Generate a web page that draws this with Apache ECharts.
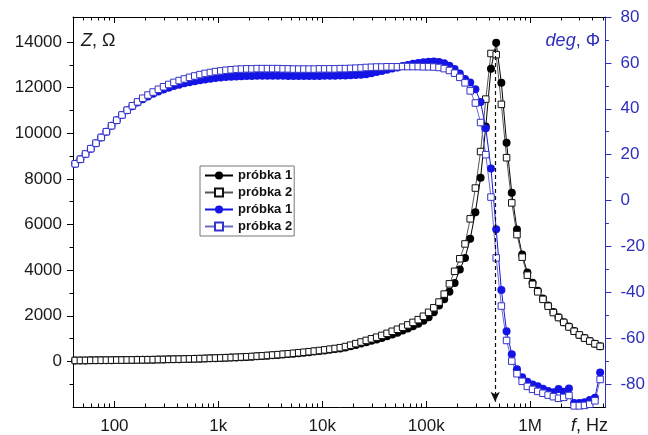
<!DOCTYPE html>
<html>
<head>
<meta charset="utf-8">
<script src="https://cdn.jsdelivr.net/npm/echarts@6.0.0/dist/echarts.min.js"></script>
<style>
  html, body { margin: 0; padding: 0; background: #fff; }
  #chart { width: 648px; height: 435px; }
</style>
</head>
<body>
<div id="chart"></div>
<script>
// measurement frequencies, Hz
var freq = [
  42, 47.12, 52.87, 59.33, 66.57, 74.69, 83.8, 94.03, 105.5, 118.4,
  132.8, 149, 167.2, 187.6, 210.5, 236.2, 265, 297.3, 333.6, 374.3,
  420, 471.2, 528.7, 593.3, 665.7, 746.9, 838, 940.3, 1055, 1184,
  1328, 1490, 1672, 1876, 2105, 2362, 2650, 2973, 3336, 3743,
  4200, 4712, 5287, 5933, 6657, 7469, 8380, 9403, 10550, 11840,
  13280, 14900, 16720, 18760, 21050, 23620, 26500, 29730, 33360, 37430,
  42000, 47120, 52870, 59330, 66570, 74690, 83800, 94030, 105500, 118400,
  132800, 149000, 167200, 187600, 210500, 236200, 265000, 297300, 333600, 374300,
  420000, 471200, 528700, 593300, 665700, 746900, 838000, 940300, 1055000, 1184000,
  1328000, 1490000, 1672000, 1876000, 2105000, 2362000, 2650000, 2973000, 3336000, 3743000,
  4200000, 4712000
];

// impedance Z, Ohm
var zSample1 = [
  40, 42, 44, 46, 48, 50, 52, 54, 56, 58,
  61, 64, 67, 70, 73, 77, 81, 85, 89, 94,
  99, 104, 109, 115, 121, 127, 134, 141, 149, 157,
  165, 174, 184, 195, 207, 220, 234, 249, 265, 282,
  300, 319, 339, 360, 382, 405, 429, 454, 480, 508,
  538, 570, 610, 660, 720, 780, 840, 900, 960, 1030,
  1100, 1180, 1260, 1350, 1440, 1540, 1650, 1780, 1930, 2150,
  2450, 2720, 3050, 3441, 4024, 4538, 5372, 6539, 8049, 10300,
  12833, 13973, 12218, 9585, 7391, 5780, 4683, 3900, 3450, 3100,
  2760, 2450, 2170, 1940, 1720, 1530, 1330, 1160, 1020, 890,
  770, 660
];
var zSample2 = [
  40, 42, 44, 46, 48, 50, 52, 54, 56, 58,
  61, 64, 67, 70, 73, 77, 81, 85, 89, 94,
  99, 104, 110, 116, 122, 129, 136, 144, 152, 161,
  170, 180, 191, 203, 216, 230, 245, 261, 278, 296,
  315, 335, 356, 378, 401, 425, 450, 477, 505, 535,
  566, 600, 650, 710, 780, 850, 920, 990, 1060, 1140,
  1230, 1320, 1410, 1500, 1600, 1710, 1830, 1980, 2150, 2350,
  2600, 2950, 3400, 3950, 4500, 5150, 6250, 7600, 9200, 11500,
  13500, 13450, 11270, 8930, 6950, 5560, 4570, 3780, 3380, 3050,
  2720, 2420, 2140, 1920, 1710, 1510, 1320, 1160, 1020, 890,
  770, 660
];

// phase angle, deg
var phiSample1 = [
  16, 18, 20.3, 22.6, 25, 27.5, 30, 32.6, 35, 37.3,
  39.3, 41.1, 42.7, 44.1, 45.4, 46.5, 47.5, 48.4, 49.2, 49.9,
  50.5, 51.1, 51.6, 52, 52.4, 52.8, 53.1, 53.4, 53.6, 53.8,
  54, 54.1, 54.2, 54.3, 54.3, 54.4, 54.4, 54.4, 54.4, 54.4,
  54.4, 54.3, 54.3, 54.3, 54.3, 54.3, 54.3, 54.3, 54.4, 54.4,
  54.4, 54.5, 54.5, 54.6, 54.7, 54.8, 55, 55.5, 56, 56.5,
  57, 57.5, 58, 58.6, 59.1, 59.6, 60, 60.3, 60.5, 60.6,
  60.4, 59.8, 58.8, 57.3, 55.4, 53, 51.5, 48.5, 43, 31.5,
  14, -12.5, -39, -57, -67, -73.5, -77, -79, -80.2, -81,
  -82, -83, -83.6, -82.2, -83.3, -81.9, -88.3, -88.3, -87.9, -87,
  -86, -75
];
var phiSample2 = [
  16, 18, 20.3, 22.6, 25, 27.5, 30, 32.6, 35, 37.3,
  39.4, 41.3, 43, 44.6, 46, 47.3, 48.5, 49.6, 50.6, 51.5,
  52.3, 53, 53.7, 54.3, 54.9, 55.4, 55.8, 56.2, 56.5, 56.8,
  57, 57.2, 57.3, 57.4, 57.4, 57.5, 57.5, 57.5, 57.5, 57.5,
  57.4, 57.4, 57.3, 57.3, 57.3, 57.3, 57.3, 57.4, 57.4, 57.4,
  57.4, 57.5, 57.5, 57.6, 57.7, 57.8, 58, 58.1, 58.2, 58.2,
  58.3, 58.3, 58.3, 58.4, 58.4, 58.4, 58.4, 58.3, 58.3, 58.2,
  58, 57.5, 56.7, 55.5, 53.7, 51.3, 47.8, 42.5, 34, 20,
  1.5, -25, -46, -61, -70, -75.5, -78.8, -81, -82.3, -83.2,
  -84, -84.8, -85.5, -86.2, -85.8, -85, -89.5, -89.5, -89.3, -88.8,
  -87.3, -78
];

// ticks and labels
var xMajor = [100, 1000, 10000, 100000, 1000000];
var xMajorLabels = ['100', '1k', '10k', '100k', '1M'];
var xMinor = [50, 60, 70, 80, 90, 200, 300, 400, 500, 600, 700, 800, 900,
  2000, 3000, 4000, 5000, 6000, 7000, 8000, 9000,
  20000, 30000, 40000, 50000, 60000, 70000, 80000, 90000,
  200000, 300000, 400000, 500000, 600000, 700000, 800000, 900000,
  2000000, 3000000, 4000000, 5000000];
var zMajor = [0, 2000, 4000, 6000, 8000, 10000, 12000, 14000];
var zMinor = [-1000, 1000, 3000, 5000, 7000, 9000, 11000, 13000];
var phiMajor = [-80, -60, -40, -20, 0, 20, 40, 60, 80];
var phiMinor = [-70, -50, -30, -10, 10, 30, 50, 70];

// resonance marker (dashed arrow)
var resonanceF = 461000;
var arrowZ = [13700, -1770];

var seriesNames = ['Z1', 'Z2', 'P1', 'P2'];
var legendLabels = ['próbka 1', 'próbka 2', 'próbka 1', 'próbka 2'];

var FONT = 'Liberation Sans, Arial, sans-serif';
var BLUE_AXIS = '#2e2ebc';

function pairs(xs, ys) {
  return xs.map(function (x, i) { return [x, ys[i]]; });
}

function xLabel(v) {
  for (var i = 0; i < xMajor.length; i++) {
    if (Math.abs(v / xMajor[i] - 1) < 1e-6) return xMajorLabels[i];
  }
  return '';
}

function xAxisDef(position, ticks, len, withLine, withLabels) {
  return {
    type: 'log',
    min: 40,
    max: 5.3e6,
    position: position,
    axisLine: { show: withLine, onZero: false, lineStyle: { color: '#000', width: 1 } },
    axisTick: { show: true, inside: true, length: len, customValues: ticks, lineStyle: { color: '#000', width: 1 } },
    axisLabel: withLabels ? {
      show: true, customValues: ticks, formatter: xLabel, margin: 11,
      color: '#1a1a1a', fontSize: 17, fontFamily: FONT
    } : { show: false },
    splitLine: { show: false },
    minorTick: { show: false }
  };
}

function yAxisDef(position, min, max, ticks, len, color, withLine, withLabels, margin) {
  return {
    type: 'value',
    min: min,
    max: max,
    position: position,
    axisLine: { show: withLine, onZero: false, lineStyle: { color: color, width: 1 } },
    axisTick: { show: true, inside: false, length: len, customValues: ticks, lineStyle: { color: color, width: 1 } },
    axisLabel: withLabels ? {
      show: true, customValues: ticks, margin: margin,
      formatter: function (v) { return String(v); },
      color: position === 'left' ? '#1a1a1a' : BLUE_AXIS, fontSize: 17, fontFamily: FONT
    } : { show: false },
    splitLine: { show: false }
  };
}

var chart = echarts.init(document.getElementById('chart'), null, { renderer: 'canvas' });

var option = {
  animation: false,
  backgroundColor: '#fff',
  grid: { left: 73, right: 42, top: 17, bottom: 27 },
  xAxis: [
    xAxisDef('bottom', xMajor, 6, true, true),
    xAxisDef('bottom', xMinor, 3.5, false, false),
    xAxisDef('top', xMajor, 6, true, false),
    xAxisDef('top', xMinor, 3.5, false, false)
  ],
  yAxis: [
    yAxisDef('left', -2000, 15100, zMajor, 6, '#000', true, true, 11),
    yAxisDef('left', -2000, 15100, zMinor, 3.5, '#000', false, false, 0),
    yAxisDef('right', -90, 80, phiMajor, 6, BLUE_AXIS, true, true, 15),
    yAxisDef('right', -90, 80, phiMinor, 3.5, BLUE_AXIS, false, false, 0)
  ],
  legend: {
    orient: 'vertical',
    left: 200,
    top: 166,
    data: seriesNames,
    formatter: function (name) { return legendLabels[seriesNames.indexOf(name)]; },
    itemWidth: 28,
    itemHeight: 10,
    itemGap: 4,
    padding: [3, 2, 3, 4],
    borderColor: '#777',
    borderWidth: 1,
    backgroundColor: '#fff',
    selectedMode: false,
    textStyle: { fontSize: 13, fontWeight: 'bold', color: '#111', fontFamily: FONT }
  },
  graphic: [
    {
      type: 'text', left: 81, top: 32,
      style: {
        text: '{i|Z}, Ω', fill: '#1a1a1a', fontSize: 18, fontFamily: FONT,
        rich: { i: { fontStyle: 'italic', fontSize: 18, fontFamily: FONT, fill: '#1a1a1a' } }
      }
    },
    {
      type: 'text', right: 48, top: 32,
      style: {
        text: '{i|deg}, Φ', fill: BLUE_AXIS, fontSize: 18, fontFamily: FONT,
        rich: { i: { fontStyle: 'italic', fontSize: 18, fontFamily: FONT, fill: BLUE_AXIS } }
      }
    },
    {
      type: 'text', left: 571, top: 417,
      style: {
        text: '{i|f}, Hz', fill: '#1a1a1a', fontSize: 18, fontFamily: FONT,
        rich: { i: { fontStyle: 'italic', fontSize: 18, fontFamily: FONT, fill: '#1a1a1a' } }
      }
    }
  ],
  series: [
    {
      name: 'Z1', type: 'line', xAxisIndex: 0, yAxisIndex: 0,
      data: pairs(freq, zSample1),
      symbol: 'circle', symbolSize: 8, showAllSymbol: true,
      itemStyle: { color: '#000' },
      lineStyle: { color: '#000', width: 1 },
      emphasis: { disabled: true },
      markLine: {
        silent: true,
        symbol: ['none', 'arrow'],
        symbolSize: [7, 10],
        label: { show: false },
        lineStyle: { color: '#111', width: 1.2, type: [4, 3] },
        data: [[{ coord: [resonanceF, arrowZ[0]] }, { coord: [resonanceF, arrowZ[1]] }]]
      }
    },
    {
      name: 'Z2', type: 'line', xAxisIndex: 0, yAxisIndex: 0,
      data: pairs(freq, zSample2),
      symbol: 'rect', symbolSize: 6.5, showAllSymbol: true,
      itemStyle: { color: '#fff', borderColor: '#111', borderWidth: 1 },
      lineStyle: { color: '#555', width: 1 },
      emphasis: { disabled: true }
    },
    {
      name: 'P1', type: 'line', xAxisIndex: 0, yAxisIndex: 2,
      data: pairs(freq, phiSample1),
      symbol: 'circle', symbolSize: 8, showAllSymbol: true,
      itemStyle: { color: '#1414e6' },
      lineStyle: { color: '#1414e6', width: 1 },
      emphasis: { disabled: true }
    },
    {
      name: 'P2', type: 'line', xAxisIndex: 0, yAxisIndex: 2,
      data: pairs(freq, phiSample2),
      symbol: 'rect', symbolSize: 6.5, showAllSymbol: true,
      itemStyle: { color: '#fff', borderColor: '#3434c8', borderWidth: 1 },
      lineStyle: { color: '#6a6ac8', width: 1 },
      emphasis: { disabled: true }
    }
  ]
};

chart.setOption(option);
</script>
</body>
</html>
